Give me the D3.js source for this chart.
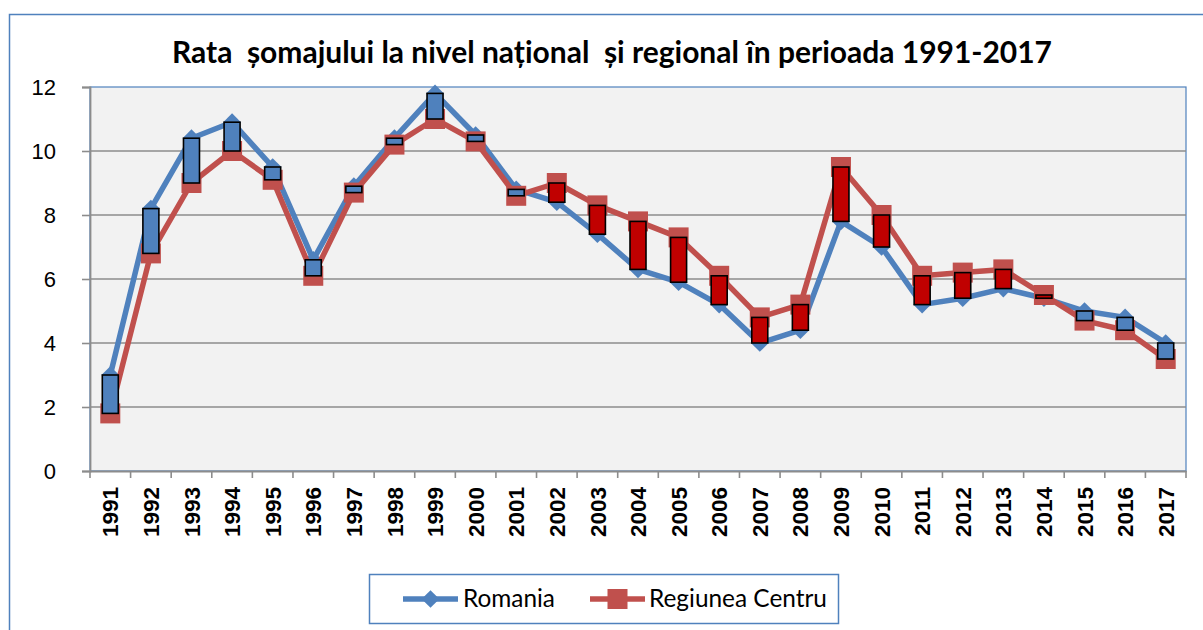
<!DOCTYPE html>
<html>
<head>
<meta charset="utf-8">
<script src="https://cdn.jsdelivr.net/npm/d3@7"></script>
<style>
  html, body { margin: 0; padding: 0; background: #ffffff; }
  svg { display: block; }
</style>
</head>
<body>
<svg id="chart" width="1203" height="630"></svg>
<script>
const years = ["1991","1992","1993","1994","1995","1996","1997","1998","1999","2000","2001","2002","2003","2004","2005","2006","2007","2008","2009","2010","2011","2012","2013","2014","2015","2016","2017"];
const romania = [3.0, 8.2, 10.4, 10.9, 9.5, 6.6, 8.9, 10.4, 11.8, 10.5, 8.8, 8.4, 7.4, 6.3, 5.9, 5.2, 4.0, 4.4, 7.8, 7.0, 5.2, 5.4, 5.7, 5.4, 5.0, 4.8, 4.0];
const centru  = [1.8, 6.8, 9.0, 10.0, 9.1, 6.1, 8.7, 10.2, 11.0, 10.3, 8.6, 9.0, 8.3, 7.8, 7.3, 6.1, 4.8, 5.2, 9.5, 8.0, 6.1, 6.2, 6.3, 5.5, 4.7, 4.4, 3.5];
const yTicks = [0, 2, 4, 6, 8, 10, 12];
const seriesNames = ["Romania", "Regiunea Centru"];
const titleText = "Rata  \u0219omajului la nivel na\u021bional  \u0219i regional \u00een perioada 1991-2017";

const BLUE = "#4F81BD", RED = "#C0504D", DARKRED = "#C00000";
const svg = d3.select("#chart");
const L = 90, R = 1186, T = 87, B = 471;

const x = d3.scaleBand().domain(years).range([L, R]);
const y = d3.scaleLinear().domain([0, 12]).range([B, T]);

// outer chart border
svg.append("rect").attr("x", 9.5).attr("y", 14.5).attr("width", 1300).attr("height", 700)
  .attr("fill", "#fff").attr("stroke", BLUE).attr("stroke-width", 1.5);

function fit(sel, target) {
  const fs = parseFloat(sel.attr("font-size"));
  const w = sel.node().getComputedTextLength();
  sel.attr("font-size", (fs * target / w).toFixed(2));
}

// title
const title = svg.append("text").attr("x", 612).attr("y", 63).attr("text-anchor", "middle")
  .attr("font-family", "Lato, 'Open Sans', sans-serif").attr("font-weight", "bold")
  .attr("font-size", 28).attr("fill", "#000").attr("xml:space", "preserve")
  .style("white-space", "pre").text(titleText);
fit(title, 880);

// plot area
svg.append("rect").attr("x", L).attr("y", T).attr("width", R - L).attr("height", B - T)
  .attr("fill", "#F2F2F2").attr("stroke", BLUE).attr("stroke-width", 1.2);

// gridlines
svg.append("g").selectAll("line").data(yTicks.filter(d => d > 0 && d < 12)).join("line")
  .attr("x1", L).attr("x2", R).attr("y1", d => y(d)).attr("y2", d => y(d))
  .attr("stroke", "#8C8C8C").attr("stroke-width", 1.6);

// y axis
const yAxis = svg.append("g").attr("transform", `translate(${L},0)`)
  .call(d3.axisLeft(y).tickValues(yTicks).tickSize(8).tickPadding(26).tickFormat(d3.format("d")));
yAxis.select(".domain").attr("stroke", "#8C8C8C").attr("stroke-width", 1.8);
yAxis.selectAll(".tick line").attr("stroke", "#8C8C8C").attr("stroke-width", 1.6);
yAxis.selectAll(".tick text").attr("font-family", "'Liberation Sans', Arial, sans-serif")
  .attr("font-size", 22).attr("fill", "#000");

// x axis
const xAxis = svg.append("g").attr("transform", `translate(0,${B})`)
  .call(d3.axisBottom(x).tickSize(0).tickFormat(""));
xAxis.select(".domain").attr("stroke", "#8C8C8C").attr("stroke-width", 1.8);
xAxis.selectAll(".tick").remove();
const bounds = years.map(d => x(d)).concat([R]);
svg.append("g").selectAll("line").data(bounds).join("line")
  .attr("x1", d => d).attr("x2", d => d).attr("y1", B).attr("y2", B + 7)
  .attr("stroke", "#8C8C8C").attr("stroke-width", 1.6);
svg.append("g").selectAll("text").data(years).join("text")
  .attr("transform", d => `translate(${x(d) + x.bandwidth() / 2},487) rotate(-90)`)
  .attr("text-anchor", "end").attr("dy", "0.36em")
  .attr("font-family", "'Liberation Sans', Arial, sans-serif").attr("font-weight", "bold")
  .attr("font-size", 22.5).attr("fill", "#000").text(d => d);

const cx = (d, i) => x(years[i]) + x.bandwidth() / 2;
const line = vals => d3.line().x((d, i) => cx(d, i)).y(d => y(d))(vals);

// Romania line + diamonds
svg.append("path").attr("d", line(romania)).attr("fill", "none")
  .attr("stroke", BLUE).attr("stroke-width", 5.5).attr("stroke-linejoin", "round");
const diamond = d3.symbol().type(d3.symbolDiamond2).size(200);
svg.append("g").selectAll("path").data(romania).join("path")
  .attr("transform", (d, i) => `translate(${cx(d, i)},${y(d)})`)
  .attr("d", diamond()).attr("fill", BLUE);

// Centru line + squares
svg.append("path").attr("d", line(centru)).attr("fill", "none")
  .attr("stroke", RED).attr("stroke-width", 5.5).attr("stroke-linejoin", "round");
svg.append("g").selectAll("rect").data(centru).join("rect")
  .attr("x", (d, i) => cx(d, i) - 10).attr("y", d => y(d) - 10)
  .attr("width", 20).attr("height", 20).attr("fill", RED);

// up/down bars
const bw = 16;
svg.append("g").selectAll("rect").data(years).join("rect")
  .attr("x", (d, i) => cx(d, i) - bw / 2)
  .attr("y", (d, i) => y(Math.max(romania[i], centru[i])))
  .attr("width", bw)
  .attr("height", (d, i) => Math.abs(y(romania[i]) - y(centru[i])))
  .attr("fill", (d, i) => romania[i] >= centru[i] ? BLUE : DARKRED)
  .attr("stroke", "#000").attr("stroke-width", 1.6);

// legend
const lg = svg.append("g");
lg.append("rect").attr("x", 369.5).attr("y", 574.5).attr("width", 469).attr("height", 49)
  .attr("fill", "#fff").attr("stroke", BLUE).attr("stroke-width", 1.5);
lg.append("line").attr("x1", 403).attr("x2", 458).attr("y1", 599).attr("y2", 599)
  .attr("stroke", BLUE).attr("stroke-width", 5.5);
lg.append("path").attr("transform", "translate(430.5,599)").attr("d", diamond()).attr("fill", BLUE);
const t1 = lg.append("text").attr("x", 463).attr("y", 607)
  .attr("font-family", "Lato, 'Open Sans', sans-serif").attr("font-size", 24).attr("fill", "#000").text(seriesNames[0]);
fit(t1, 92);
lg.append("line").attr("x1", 590).attr("x2", 645).attr("y1", 599).attr("y2", 599)
  .attr("stroke", RED).attr("stroke-width", 5.5);
lg.append("rect").attr("x", 607.5).attr("y", 589).attr("width", 20).attr("height", 20).attr("fill", RED);
const t2 = lg.append("text").attr("x", 649).attr("y", 607)
  .attr("font-family", "Lato, 'Open Sans', sans-serif").attr("font-size", 24).attr("fill", "#000").text(seriesNames[1]);
fit(t2, 178);
</script>
</body>
</html>
